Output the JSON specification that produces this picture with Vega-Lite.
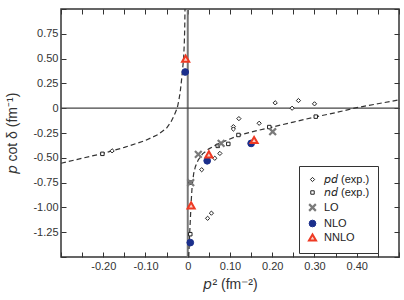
{
  "$schema": "https://vega.github.io/schema/vega-lite/v6.json",
  "width": 338,
  "height": 248,
  "autosize": {"type": "none"},
  "padding": {"left": 61, "top": 9, "right": 5, "bottom": 43},
  "background": "white",
  "config": {
    "font": "Liberation Sans",
    "view": {"stroke": "#333", "strokeWidth": 1.5},
    "axis": {
      "domain": false,
      "grid": false,
      "tickSize": -5,
      "tickColor": "#333",
      "tickWidth": 1,
      "labelFont": "Liberation Sans",
      "labelFontSize": 11,
      "labelColor": "#333",
      "titleFont": "Liberation Sans",
      "titleFontSize": 14,
      "titleFontWeight": "normal",
      "titleColor": "#333"
    },
    "legend": {
      "title": null,
      "orient": "none",
      "legendX": 238,
      "legendY": 157,
      "padding": 8,
      "strokeColor": "#333",
      "fillColor": "white",
      "labelFont": "Liberation Sans",
      "labelFontSize": 11,
      "labelColor": "#222",
      "labelOffset": 6,
      "rowPadding": 1
    }
  },
  "resolve": {"axis": {"x": "independent", "y": "independent"}},
  "layer": [
    {
      "data": {"values": [{"x": 0}]},
      "mark": {"type": "rule", "color": "#777", "strokeWidth": 2},
      "encoding": {
        "x": {
          "field": "x", "type": "quantitative",
          "scale": {"domain": [-0.3, 0.5], "nice": false, "zero": false},
          "axis": {
            "orient": "bottom",
            "values": [-0.3, -0.25, -0.2, -0.15, -0.1, -0.05, 0, 0.05, 0.1, 0.15, 0.2, 0.25, 0.3, 0.35, 0.4, 0.45, 0.5],
            "labelExpr": "abs(datum.value) < 0.001 ? '0' : (datum.value > -0.26 && datum.value < 0.46 && abs(round(datum.value * 20)) % 2 == 0 ? replace(format(datum.value, '.2f'), '\u2212', '-') : '')",
            "labelPadding": 8,
            "labelFlush": false,
            "title": "\ud835\ude31\u00b2 (fm\u207b\u00b2)",
            "titlePadding": 6
          }
        }
      }
    },
    {
      "data": {"values": [{"y": 0}]},
      "mark": {"type": "rule", "color": "#444", "strokeWidth": 1.3},
      "encoding": {
        "y": {
          "field": "y", "type": "quantitative",
          "scale": {"domain": [-1.5, 1.0], "nice": false, "zero": false},
          "axis": {
            "orient": "left",
            "values": [-1.5, -1.25, -1, -0.75, -0.5, -0.25, 0, 0.25, 0.5, 0.75, 1],
            "labelExpr": "abs(datum.value) < 0.001 ? '0' : (datum.value > -1.4 && datum.value < 0.9 ? replace(format(datum.value, '.2f'), '\u2212', '-') : '')",
            "labelPadding": 8,
            "labelFlush": false,
            "title": "\ud835\ude31 cot \u03b4 (fm\u207b\u00b9)",
            "titlePadding": 13
          }
        }
      }
    },
    {
      "data": {
        "values": [
          {"branch": "left", "x": -0.30, "y": -0.555},
          {"branch": "left", "x": -0.25, "y": -0.505},
          {"branch": "left", "x": -0.20, "y": -0.455},
          {"branch": "left", "x": -0.15, "y": -0.395},
          {"branch": "left", "x": -0.10, "y": -0.325},
          {"branch": "left", "x": -0.07, "y": -0.265},
          {"branch": "left", "x": -0.05, "y": -0.20},
          {"branch": "left", "x": -0.04, "y": -0.14},
          {"branch": "left", "x": -0.033, "y": -0.08},
          {"branch": "left", "x": -0.029, "y": -0.04},
          {"branch": "left", "x": -0.025, "y": 0.0},
          {"branch": "left", "x": -0.021, "y": 0.08},
          {"branch": "left", "x": -0.018, "y": 0.16},
          {"branch": "left", "x": -0.0155, "y": 0.25},
          {"branch": "left", "x": -0.0125, "y": 0.38},
          {"branch": "left", "x": -0.0098, "y": 0.5},
          {"branch": "left", "x": -0.0082, "y": 0.65},
          {"branch": "left", "x": -0.0072, "y": 0.8},
          {"branch": "left", "x": -0.0065, "y": 1.0},
          {"branch": "right", "x": 0.0024, "y": -1.5},
          {"branch": "right", "x": 0.0045, "y": -1.27},
          {"branch": "right", "x": 0.0064, "y": -1.10},
          {"branch": "right", "x": 0.008, "y": -0.95},
          {"branch": "right", "x": 0.0105, "y": -0.78},
          {"branch": "right", "x": 0.014, "y": -0.66},
          {"branch": "right", "x": 0.018, "y": -0.59},
          {"branch": "right", "x": 0.025, "y": -0.52},
          {"branch": "right", "x": 0.035, "y": -0.46},
          {"branch": "right", "x": 0.05, "y": -0.41},
          {"branch": "right", "x": 0.065, "y": -0.375},
          {"branch": "right", "x": 0.08, "y": -0.345},
          {"branch": "right", "x": 0.10, "y": -0.31},
          {"branch": "right", "x": 0.12, "y": -0.275},
          {"branch": "right", "x": 0.15, "y": -0.24},
          {"branch": "right", "x": 0.20, "y": -0.19},
          {"branch": "right", "x": 0.25, "y": -0.14},
          {"branch": "right", "x": 0.30, "y": -0.09},
          {"branch": "right", "x": 0.35, "y": -0.045},
          {"branch": "right", "x": 0.40, "y": 0.006},
          {"branch": "right", "x": 0.45, "y": 0.045},
          {"branch": "right", "x": 0.50, "y": 0.084}
        ]
      },
      "mark": {"type": "line", "color": "#333", "strokeWidth": 1.2, "strokeDash": [5, 3], "clip": true},
      "encoding": {
        "x": {
          "field": "x", "type": "quantitative",
          "scale": {"domain": [-0.3, 0.5], "nice": false, "zero": false},
          "axis": {
            "orient": "top",
            "values": [-0.3, -0.25, -0.2, -0.15, -0.1, -0.05, 0, 0.05, 0.1, 0.15, 0.2, 0.25, 0.3, 0.35, 0.4, 0.45, 0.5],
            "labels": false,
            "title": null
          }
        },
        "y": {
          "field": "y", "type": "quantitative",
          "scale": {"domain": [-1.5, 1.0], "nice": false, "zero": false},
          "axis": {
            "orient": "right",
            "values": [-1.5, -1.25, -1, -0.75, -0.5, -0.25, 0, 0.25, 0.5, 0.75, 1],
            "labels": false,
            "title": null
          }
        },
        "detail": {"field": "branch"},
        "order": {"field": "x", "type": "quantitative"}
      }
    },
    {
      "data": {
        "values": [
          {"series": "\ud835\ude31\ud835\ude25 (exp.)", "x": -0.179, "y": -0.43},
          {"series": "\ud835\ude31\ud835\ude25 (exp.)", "x": 0.033, "y": -0.62},
          {"series": "\ud835\ude31\ud835\ude25 (exp.)", "x": 0.064, "y": -0.505},
          {"series": "\ud835\ude31\ud835\ude25 (exp.)", "x": 0.076, "y": -0.456},
          {"series": "\ud835\ude31\ud835\ude25 (exp.)", "x": 0.108, "y": -0.186},
          {"series": "\ud835\ude31\ud835\ude25 (exp.)", "x": 0.108, "y": -0.21},
          {"series": "\ud835\ude31\ud835\ude25 (exp.)", "x": 0.121, "y": -0.105},
          {"series": "\ud835\ude31\ud835\ude25 (exp.)", "x": 0.169, "y": -0.152},
          {"series": "\ud835\ude31\ud835\ude25 (exp.)", "x": 0.207, "y": 0.054},
          {"series": "\ud835\ude31\ud835\ude25 (exp.)", "x": 0.247, "y": 0.0},
          {"series": "\ud835\ude31\ud835\ude25 (exp.)", "x": 0.262, "y": 0.077},
          {"series": "\ud835\ude31\ud835\ude25 (exp.)", "x": 0.300, "y": 0.044},
          {"series": "\ud835\ude31\ud835\ude25 (exp.)", "x": 0.047, "y": -1.11},
          {"series": "\ud835\ude31\ud835\ude25 (exp.)", "x": 0.056, "y": -1.058},
          {"series": "\ud835\ude2f\ud835\ude25 (exp.)", "x": -0.202, "y": -0.46},
          {"series": "\ud835\ude2f\ud835\ude25 (exp.)", "x": 0.006, "y": -1.27},
          {"series": "\ud835\ude2f\ud835\ude25 (exp.)", "x": 0.007, "y": -0.75},
          {"series": "\ud835\ude2f\ud835\ude25 (exp.)", "x": 0.071, "y": -0.38},
          {"series": "\ud835\ude2f\ud835\ude25 (exp.)", "x": 0.096, "y": -0.36},
          {"series": "\ud835\ude2f\ud835\ude25 (exp.)", "x": 0.120, "y": -0.27},
          {"series": "\ud835\ude2f\ud835\ude25 (exp.)", "x": 0.193, "y": -0.19},
          {"series": "\ud835\ude2f\ud835\ude25 (exp.)", "x": 0.303, "y": -0.085},
          {"series": "LO", "x": 0.007, "y": -0.75},
          {"series": "LO", "x": 0.025, "y": -0.466},
          {"series": "LO", "x": 0.079, "y": -0.355},
          {"series": "LO", "x": 0.201, "y": -0.237},
          {"series": "NLO", "x": -0.006, "y": 0.365},
          {"series": "NLO", "x": 0.006, "y": -1.355},
          {"series": "NLO", "x": 0.046, "y": -0.53},
          {"series": "NLO", "x": 0.150, "y": -0.355},
          {"series": "NNLO", "x": -0.005, "y": 0.50},
          {"series": "NNLO", "x": 0.008, "y": -0.98},
          {"series": "NNLO", "x": 0.050, "y": -0.466},
          {"series": "NNLO", "x": 0.157, "y": -0.32}
        ]
      },
      "mark": {"type": "point", "filled": true, "opacity": 1},
      "encoding": {
        "x": {"field": "x", "type": "quantitative", "scale": {"domain": [-0.3, 0.5], "nice": false, "zero": false}, "axis": null},
        "y": {"field": "y", "type": "quantitative", "scale": {"domain": [-1.5, 1.0], "nice": false, "zero": false}, "axis": null},
        "shape": {
          "field": "series", "type": "nominal",
          "scale": {
            "type": "ordinal",
            "domain": ["\ud835\ude31\ud835\ude25 (exp.)", "\ud835\ude2f\ud835\ude25 (exp.)", "LO", "NLO", "NNLO"],
            "range": ["diamond", "square", "M-1,-1L1,1M-1,1L1,-1", "circle", "triangle-up"]
          }
        },
        "fill": {
          "field": "series", "type": "nominal",
          "scale": {
            "type": "ordinal",
            "domain": ["\ud835\ude31\ud835\ude25 (exp.)", "\ud835\ude2f\ud835\ude25 (exp.)", "LO", "NLO", "NNLO"],
            "range": ["white", "white", "#7a7a7a", "#1b2f8c", "#fbd0c6"]
          }
        },
        "stroke": {
          "field": "series", "type": "nominal",
          "scale": {
            "type": "ordinal",
            "domain": ["\ud835\ude31\ud835\ude25 (exp.)", "\ud835\ude2f\ud835\ude25 (exp.)", "LO", "NLO", "NNLO"],
            "range": ["#222", "#222", "#7a7a7a", "#1b2f8c", "#ee3a24"]
          }
        },
        "size": {
          "field": "series", "type": "nominal",
          "scale": {
            "type": "ordinal",
            "domain": ["\ud835\ude31\ud835\ude25 (exp.)", "\ud835\ude2f\ud835\ude25 (exp.)", "LO", "NLO", "NNLO"],
            "range": [18, 12, 45, 45, 50]
          }
        },
        "strokeWidth": {
          "field": "series", "type": "nominal",
          "scale": {
            "type": "ordinal",
            "domain": ["\ud835\ude31\ud835\ude25 (exp.)", "\ud835\ude2f\ud835\ude25 (exp.)", "LO", "NLO", "NNLO"],
            "range": [1, 1, 2.2, 1, 2]
          }
        }
      }
    }
  ]
}
